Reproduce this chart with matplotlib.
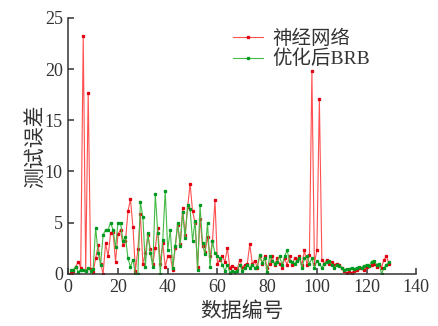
import numpy as np
import matplotlib
matplotlib.use('Agg')
import matplotlib.pyplot as plt

plt.rcParams['font.family'] = ['Liberation Serif', 'Noto Sans CJK SC']

# data (index 1..129)
nn_err = [0.1, 0.3, 0.7, 1.2, 0.6, 23.2, 0.3, 17.7, 0.5, 0.2,
          1.5, 2.8, 1.0, 0.0, 3.0, 1.7, 4.0, 4.1, 1.2, 3.9,
          4.3, 2.8, 3.2, 6.1, 7.3, 4.6, 0.3, 2.4, 5.8, 1.0,
          2.0, 3.8, 2.4, 1.0, 2.5, 4.5, 1.0, 3.0, 0.7, 1.7,
          1.7, 0.4, 2.5, 4.8, 2.9, 6.4, 3.8, 6.5, 8.8, 6.1,
          5.0, 0.7, 5.4, 2.7, 2.1, 3.6, 1.7, 3.2, 7.2, 1.0,
          1.4, 1.7, 1.2, 2.5, 0.6, 0.8, 0.6, 0.5, 1.4, 0.6,
          0.9, 1.0, 2.9, 1.0, 1.3, 0.6, 1.7, 1.0, 1.7, 0.6,
          1.0, 1.7, 0.9, 1.5, 1.0, 0.6, 1.5, 0.9, 1.7, 0.9,
          1.5, 1.4, 1.7, 0.9, 2.3, 0.9, 1.8, 19.8, 1.0, 2.3,
          17.1, 1.4, 1.0, 1.4, 1.0, 1.2, 0.9, 1.0, 0.9, 0.6,
          0.3, 0.1, 0.2, 0.1, 0.3, 0.4, 0.6, 0.6, 0.4, 0.7,
          0.8, 0.9, 1.0, 0.7, 0.9, 0.6, 1.4, 1.7, 1.0]

brb_err = [0.4, 0.4, 0.7, 0.2, 0.4, 0.4, 0.3, 0.6, 0.3, 0.5,
           4.5, 2.0, 0.9, 3.8, 4.3, 4.3, 5.0, 4.3, 2.6, 5.0,
           5.0, 3.2, 3.6, 1.5, 0.7, 1.4, 0.0, 0.0, 7.0, 5.6,
           0.7, 4.0, 2.0, 0.7, 7.8, 4.0, 0.0, 3.3, 8.1, 2.3,
           4.3, 0.6, 2.7, 5.0, 2.7, 6.0, 3.5, 6.7, 6.3, 3.2,
           5.2, 0.4, 6.7, 3.0, 1.9, 5.0, 0.7, 3.2, 2.0, 1.7,
           1.5, 0.9, 0.3, 0.9, 0.1, 0.3, 0.2, 0.3, 0.9, 0.3,
           0.6, 0.9, 0.6, 0.9, 0.6, 0.7, 1.8, 1.1, 1.5, 0.2,
           1.7, 1.3, 1.0, 1.2, 1.7, 0.9, 1.7, 2.3, 1.3, 1.2,
           1.0, 1.3, 1.5, 0.6, 1.5, 1.7, 1.0, 1.5, 0.6, 1.3,
           1.0, 0.6, 1.0, 1.2, 1.3, 0.9, 0.6, 0.9, 0.8, 0.6,
           0.4, 0.5, 0.5, 0.6, 0.5, 0.6, 0.7, 0.6, 0.8, 0.9,
           0.8, 1.2, 1.3, 0.9, 1.0, 0.0, 0.6, 0.9, 1.2]

idx = np.arange(1, len(nn_err) + 1)

fig = plt.figure(figsize=(4.39, 3.26), dpi=100)
ax = fig.add_axes([0.1556, 0.16, 0.7927, 0.785])

ax.plot(idx, nn_err, color='#ff5050', lw=0.8, marker='s', ms=1.4,
        mfc='#e00010', mec='#e00010', label='神经网络')
ax.plot(idx, brb_err, color='#45bb45', lw=0.8, marker='s', ms=1.4,
        mfc='#009a20', mec='#009a20', label='优化后BRB')

ax.set_xlim(0, 140)
ax.set_ylim(0, 25)
ax.set_xticks(range(0, 141, 20))
ax.set_yticks(range(0, 26, 5))

for s in ['top', 'right']:
    ax.spines[s].set_visible(False)
for s in ['left', 'bottom']:
    ax.spines[s].set_linewidth(1.1)
    ax.spines[s].set_color('#333333')

ax.tick_params(direction='in', length=4, width=1.1, color='#333333',
               labelsize=13, labelcolor='#333333', pad=4)

ax.set_xlabel('数据编号', fontsize=15, color='#333333')
ax.set_ylabel('测试误差', fontsize=15, color='#333333')
ax.xaxis.set_label_coords(0.5, -0.11)
ax.yaxis.set_label_coords(-0.065, 0.5)

ax.legend(loc='upper left', bbox_to_anchor=(0.45, 0.985), frameon=False,
          fontsize=14, handlelength=1.55, handletextpad=0.5,
          labelspacing=0.1, borderaxespad=0.0, labelcolor='#333333')

fig.savefig('out.png', dpi=100)
